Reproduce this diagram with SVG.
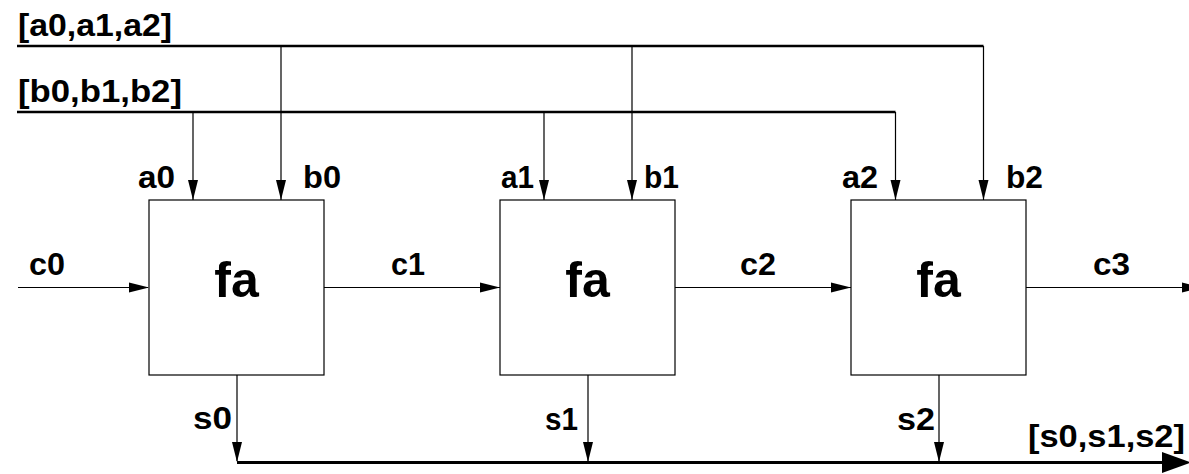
<svg xmlns="http://www.w3.org/2000/svg" width="1189" height="474" viewBox="0 0 1189 474">
  <style>
    .box { fill: #ffffff; stroke: #000000; stroke-width: 1.2; }
    .title { font-family: "Liberation Sans", Arial, sans-serif; font-weight: bold; font-size: 50px; fill: #000000; text-anchor: middle; }
    .lbl { font-family: "Liberation Sans", Arial, sans-serif; font-weight: bold; font-size: 31px; fill: #000000; }
    .wire { fill: none; stroke: #000000; stroke-width: 1.2; }
    .bus { fill: none; stroke: #000000; stroke-width: 2.4; }
    .head { fill: #000000; stroke: none; }
  </style>
  <defs>
    <!-- standard arrowhead, tip at origin, pointing +x -->
    <polygon id="ah" points="0,0 -20,-5 -20,5"/>
  </defs>
  <rect width="1189" height="474" fill="#ffffff"/>

  <g id="connectors">
    <!-- a bus -->
    <path class="bus" d="M17,46 H983.5"/>
    <path class="wire" d="M281,46 V200 M632,46 V200 M983.5,46 V200"/>
    <!-- b bus -->
    <path class="bus" d="M17,112 H895.5"/>
    <path class="wire" d="M193,112 V200 M544,112 V200 M895.5,112 V200"/>
    <!-- carry chain -->
    <path class="wire" d="M18,287.5 H148 M324,287.5 H500 M675,287.5 H851 M1026,287.5 H1185"/>
    <!-- sum outputs -->
    <path class="wire" d="M237,375 V461 M588,375 V461 M939,375 V461"/>
    <path class="bus" d="M237,462.5 H1165" style="stroke-width:3"/>
    <!-- arrowheads -->
    <g class="head">
      <use href="#ah" transform="translate(193,200) rotate(90)"/>
      <use href="#ah" transform="translate(281,200) rotate(90)"/>
      <use href="#ah" transform="translate(544,200) rotate(90)"/>
      <use href="#ah" transform="translate(632,200) rotate(90)"/>
      <use href="#ah" transform="translate(895.5,200) rotate(90)"/>
      <use href="#ah" transform="translate(983.5,200) rotate(90)"/>
      <use href="#ah" transform="translate(149,287.5)"/>
      <use href="#ah" transform="translate(500,287.5)"/>
      <use href="#ah" transform="translate(851,287.5)"/>
      <use href="#ah" transform="translate(1202,287.5)"/>
      <use href="#ah" transform="translate(237,462) rotate(90)"/>
      <use href="#ah" transform="translate(588,462) rotate(90)"/>
      <use href="#ah" transform="translate(939,462) rotate(90)"/>
      <polygon points="1191,462.5 1162,452 1162,473"/>
    </g>
  </g>

  <g id="fa0">
    <rect class="box" x="149" y="200" width="175" height="175"/>
    <text class="title" x="236.5" y="297">fa</text>
  </g>
  <g id="fa1">
    <rect class="box" x="500" y="200" width="175" height="175"/>
    <text class="title" x="587.5" y="297">fa</text>
  </g>
  <g id="fa2">
    <rect class="box" x="851" y="200" width="175" height="175"/>
    <text class="title" x="938.5" y="297">fa</text>
  </g>

  <g id="labels">
    <text class="lbl" x="18" y="36" textLength="154" lengthAdjust="spacingAndGlyphs">[a0,a1,a2]</text>
    <text class="lbl" x="18" y="102" textLength="164" lengthAdjust="spacingAndGlyphs">[b0,b1,b2]</text>
    <text class="lbl" x="138" y="188" textLength="37" lengthAdjust="spacingAndGlyphs">a0</text>
    <text class="lbl" x="303" y="188" textLength="38" lengthAdjust="spacingAndGlyphs">b0</text>
    <text class="lbl" x="501" y="188" textLength="33" lengthAdjust="spacingAndGlyphs">a1</text>
    <text class="lbl" x="644" y="188" textLength="35" lengthAdjust="spacingAndGlyphs">b1</text>
    <text class="lbl" x="842" y="188" textLength="36" lengthAdjust="spacingAndGlyphs">a2</text>
    <text class="lbl" x="1006" y="188" textLength="37" lengthAdjust="spacingAndGlyphs">b2</text>
    <text class="lbl" x="29" y="275" textLength="36" lengthAdjust="spacingAndGlyphs">c0</text>
    <text class="lbl" x="391" y="275" textLength="34" lengthAdjust="spacingAndGlyphs">c1</text>
    <text class="lbl" x="740" y="275" textLength="36" lengthAdjust="spacingAndGlyphs">c2</text>
    <text class="lbl" x="1093" y="275" textLength="37" lengthAdjust="spacingAndGlyphs">c3</text>
    <text class="lbl" x="193" y="429" textLength="39" lengthAdjust="spacingAndGlyphs">s0</text>
    <text class="lbl" x="545" y="430" textLength="33" lengthAdjust="spacingAndGlyphs">s1</text>
    <text class="lbl" x="897" y="430" textLength="38" lengthAdjust="spacingAndGlyphs">s2</text>
    <text class="lbl" x="1028" y="447" textLength="157" lengthAdjust="spacingAndGlyphs">[s0,s1,s2]</text>
  </g>
</svg>
